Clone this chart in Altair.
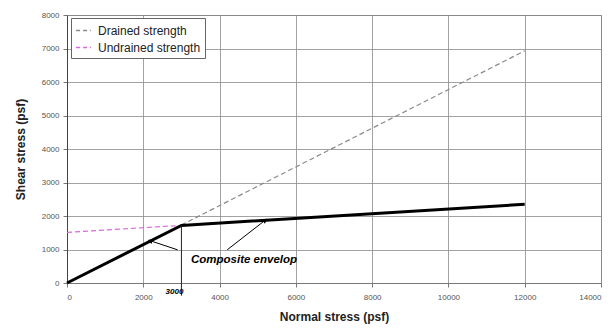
import altair as alt
import pandas as pd

# Data
drained_x = [0, 12000]
drained_y = [0, 6930]
undrained_x = [0, 12000]
undrained_y = [1510, 2350]
envelope_x = [0, 3000, 12000]
envelope_y = [0, 1720, 2350]

series_names = ["Drained strength", "Undrained strength"]
series_colors = ["#8a8a8a", "#dd66dd"]

x_ticks = [0, 2000, 4000, 6000, 8000, 10000, 12000, 14000]
y_ticks = [0, 1000, 2000, 3000, 4000, 5000, 6000, 7000, 8000]

arrow1 = {"x": [2900, 2200], "y": [990, 1255]}
arrow2 = {"x": [4200, 5180], "y": [990, 1860]}
kink_x = 3000
kink_y = 1720

W, H = 534, 268

lines_df = pd.DataFrame(
    {"x": drained_x + undrained_x,
     "y": drained_y + undrained_y,
     "series": [series_names[0]] * 2 + [series_names[1]] * 2,
     "order": [0, 1, 0, 1]}
)
env_df = pd.DataFrame({"x": envelope_x, "y": envelope_y})

xscale = alt.Scale(domain=[0, 14000], nice=False)
yscale = alt.Scale(domain=[0, 8000], nice=False)

xaxis = alt.Axis(values=x_ticks, format="d", title="Normal stress (psf)", labelOverlap=False,
                 grid=True, gridColor="#8a8a8a", gridWidth=0.8, domainColor="#777",
                 tickColor="#777", tickSize=4, labelFontSize=8, labelColor="#555",
                 titleFontSize=12, titleFontWeight="bold", titleColor="#222", titlePadding=10,
                 labelPadding=6)
yaxis = alt.Axis(values=y_ticks, format="d", title="Shear stress (psf)", labelOverlap=False,
                 grid=True, gridColor="#8a8a8a", gridWidth=0.8, domainColor="#444",
                 tickColor="#777", tickSize=4, labelFontSize=8, labelColor="#555",
                 titleFontSize=12, titleFontWeight="bold", titleColor="#222", titlePadding=14,
                 labelPadding=4)

X = alt.X("x:Q", scale=xscale, axis=xaxis)
Y = alt.Y("y:Q", scale=yscale, axis=yaxis)

dashed = alt.Chart(lines_df).mark_line(strokeDash=[5, 3], strokeWidth=1.2).encode(
    x=X, y=Y,
    color=alt.Color("series:N", scale=alt.Scale(domain=series_names, range=series_colors),
                    legend=alt.Legend(title=None, orient="none", legendX=4, legendY=3,
                                      symbolType="stroke", symbolDash=[4, 3], symbolStrokeWidth=1.3,
                                      symbolSize=220, labelFontSize=12, labelColor="#222",
                                      strokeColor="#666", fillColor="white", padding=4,
                                      rowPadding=2, labelOffset=6, labelFont="Liberation Sans")),
    detail="series:N",
    order="order:Q",
)

env = alt.Chart(env_df).mark_line(color="black", strokeWidth=3).encode(x=X, y=Y)

vline_df = pd.DataFrame({"x": [kink_x], "y": [kink_y], "y2": [-380]})
vline = alt.Chart(vline_df).mark_rule(color="#222", strokeWidth=1).encode(x=X, y=Y, y2="y2:Q")

lbl_df = pd.DataFrame({"x": [kink_x], "y": [-270], "t": ["3000"]})
lbl = alt.Chart(lbl_df).mark_text(fontStyle="italic", fontWeight="bold", fontSize=8,
                                  font="Liberation Sans", color="black", dx=-7).encode(
    x=X, y=Y, text="t:N"
)

arr_df = pd.DataFrame({
    "x": arrow1["x"] + arrow2["x"], "y": arrow1["y"] + arrow2["y"],
    "g": ["a", "a", "b", "b"], "o": [0, 1, 0, 1]})
arr = alt.Chart(arr_df).mark_line(color="black", strokeWidth=1).encode(
    x=X, y=Y, detail="g:N", order="o:Q"
)
head_df = pd.DataFrame({"x": [arrow1["x"][1], arrow2["x"][1]],
                        "y": [arrow1["y"][1], arrow2["y"][1]],
                        "a": [290, 54]})
heads = alt.Chart(head_df).mark_point(shape="triangle", filled=True, color="black", size=30, opacity=1).encode(
    x=X, y=Y, angle=alt.Angle("a:Q", scale=None)
)

txt_df = pd.DataFrame({"x": [4640], "y": [690], "t": ["Composite envelop"]})
txt = alt.Chart(txt_df).mark_text(fontStyle="italic", fontWeight="bold", fontSize=11.5,
                                  font="Liberation Sans", color="black").encode(
    x=X, y=Y, text="t:N"
)

chart = alt.layer(dashed, env, vline, arr, heads, lbl, txt).properties(
    width=W, height=H,
    autosize=alt.AutoSizeParams(type="none"),
    padding={"left": 67, "top": 15, "right": 12, "bottom": 45},
    background="white",
).configure_view(stroke="#8a8a8a", strokeWidth=1).configure_axis(
    labelFont="Liberation Sans", titleFont="Liberation Sans"
)

chart.save("out.html", embed_options={"renderer": "svg", "actions": False})
